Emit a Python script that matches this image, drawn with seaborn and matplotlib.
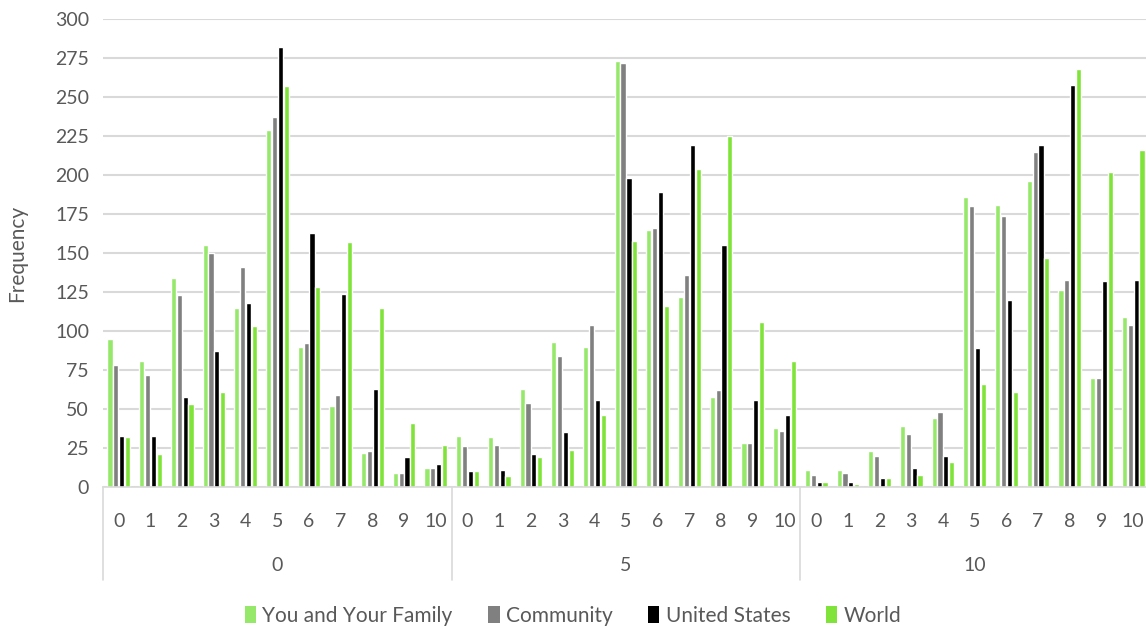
import matplotlib
matplotlib.use("Agg")
import matplotlib.pyplot as plt
import seaborn as sns
import pandas as pd
from matplotlib.patches import Patch

# outer groups and inner categories
groups = ["0", "5", "10"]
categories = ["0", "1", "2", "3", "4", "5", "6", "7", "8", "9", "10"]
series = ["You and Your Family", "Community", "United States", "World"]

# values per group, one list per inner category (11 each)
family = [95, 81, 134, 155, 115, 229, 90, 52, 22, 9, 12,
          33, 32, 63, 93, 90, 273, 165, 122, 58, 28, 38,
          11, 11, 23, 39, 44, 186, 181, 196, 126, 70, 109]
community = [78, 72, 123, 150, 141, 237, 92, 59, 23, 9, 12,
             26, 27, 54, 84, 104, 272, 166, 136, 62, 28, 36,
             8, 9, 20, 34, 48, 180, 174, 215, 133, 70, 104]
united_states = [33, 33, 58, 87, 118, 282, 163, 124, 63, 19, 15,
                 10, 11, 21, 35, 56, 198, 189, 219, 155, 56, 46,
                 3, 3, 6, 12, 20, 89, 120, 219, 258, 132, 133]
world = [32, 21, 53, 61, 103, 257, 128, 157, 115, 41, 27,
         10, 7, 19, 24, 46, 158, 116, 204, 225, 106, 81,
         3, 2, 6, 8, 16, 66, 61, 147, 268, 202, 216]

colors = ["#96E86A", "#808080", "#000000", "#80E33A"]
text_color = "#595959"
grid_color = "#D9D9D9"

n = len(groups) * len(categories)
rows = []
for name, vals in zip(series, [family, community, united_states, world]):
    for i, v in enumerate(vals):
        rows.append({"pos": i, "series": name, "value": v})
df = pd.DataFrame(rows)

sns.set_style("white")
plt.rcParams["font.family"] = ["Lato", "DejaVu Sans"]

fig = plt.figure(figsize=(11.46, 6.29), dpi=100)
ax = fig.add_axes([103 / 1146, 142 / 629, 1046 / 1146, 468 / 629])

sns.barplot(data=df, x="pos", y="value", hue="series", hue_order=series,
            palette=colors, width=0.74, gap=0.12, ax=ax, legend=False,
            order=list(range(n)), saturation=1)

ax.set_ylim(0, 300)
ax.set_xlim(-0.5, n - 0.5)
ax.set_yticks(range(0, 301, 25))
ax.yaxis.grid(True, color=grid_color, linewidth=1.5)
ax.set_axisbelow(True)
for s in ["top", "right", "left"]:
    ax.spines[s].set_visible(False)
ax.spines["bottom"].set_color(grid_color)
ax.spines["bottom"].set_linewidth(1.2)

ax.tick_params(axis="y", length=0, labelsize=14, labelcolor=text_color, pad=10)
ax.set_xticks(range(n))
ax.set_xticklabels(categories * len(groups))
ax.tick_params(axis="x", length=0, labelsize=14, labelcolor=text_color, pad=19)
ax.set_xlabel("")
ax.set_ylabel("Frequency", fontsize=15, color=text_color, labelpad=20)

# group labels and separators
trans = ax.get_xaxis_transform()
k = len(categories)
for gi, g in enumerate(groups):
    center = gi * k + (k - 1) / 2
    ax.text(center, -0.167, g, transform=trans, ha="center", va="center",
            fontsize=14, color=text_color)
for b in range(len(groups)):
    xb = b * k - 0.5
    ax.plot([xb, xb], [0, -0.199], transform=trans, color=grid_color,
            linewidth=1.2, clip_on=False)

handles = [Patch(facecolor=c, edgecolor="none") for c in colors]
fig.legend(handles, series, loc="center", bbox_to_anchor=(0.5, 0.021), ncol=4,
           frameon=False, fontsize=15, labelcolor=text_color,
           handlelength=0.55, handleheight=0.9, handletextpad=0.3, columnspacing=1.7)

fig.savefig("out.png", dpi=100)
